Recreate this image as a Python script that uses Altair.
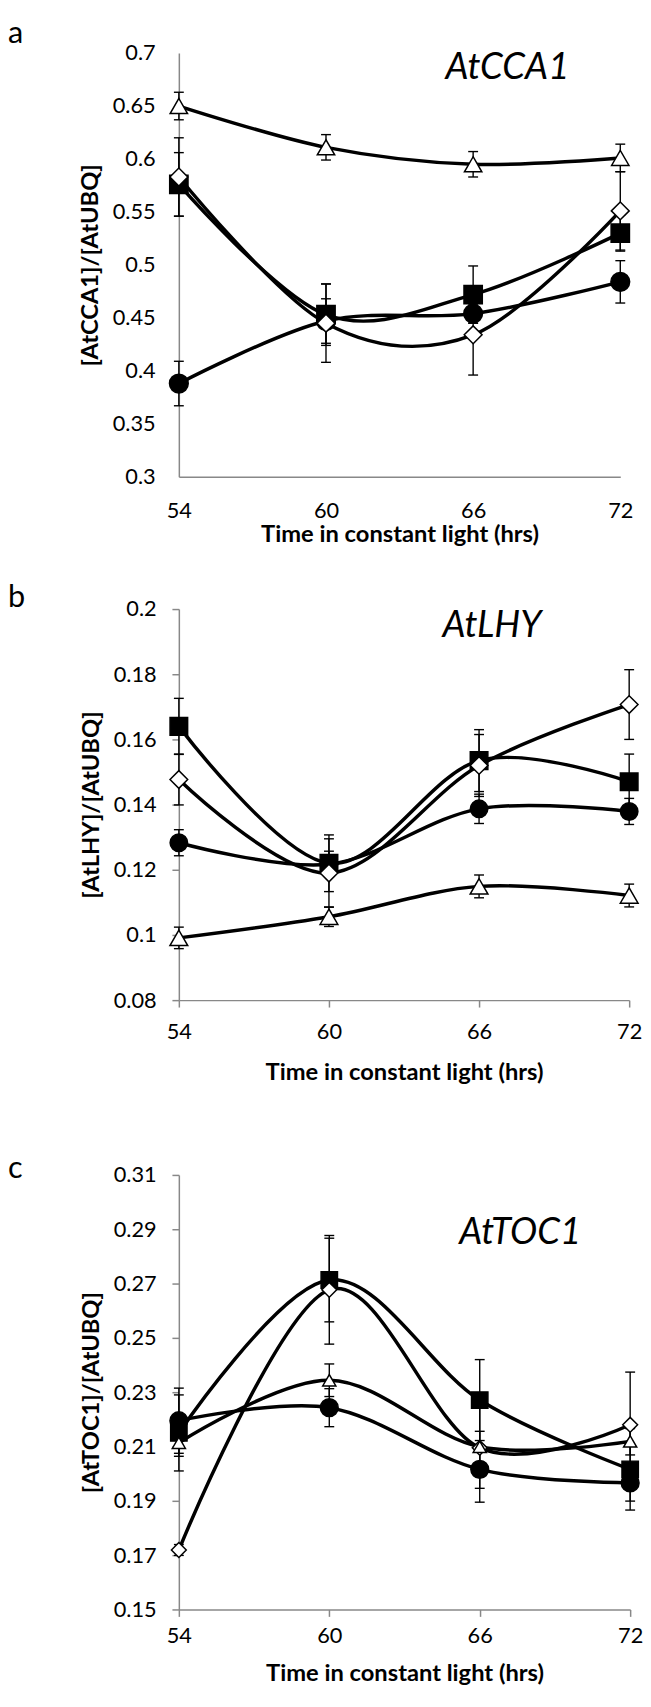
import altair as alt
import pandas as pd

TIMES = [54, 60, 66, 72]
SERIES = ["circle", "square", "diamond", "triangle"]
X_TITLE = "Time in constant light (hrs)"
PANEL_LABELS = ["a", "b", "c"]
GENES = ["AtCCA1", "AtLHY", "AtTOC1"]
Y_TITLES = ["[AtCCA1]/[AtUBQ]", "[AtLHY]/[AtUBQ]", "[AtTOC1]/[AtUBQ]"]

# Panel a: AtCCA1
A_CIRCLE = [0.388, 0.447, 0.454, 0.484]
A_CIRCLE_ERR = [0.021, 0.021, 0.009, 0.020]
A_SQUARE = [0.576, 0.453, 0.472, 0.530]
A_SQUARE_ERR = [0.030, 0.029, 0.027, 0.017]
A_DIAMOND = [0.583, 0.445, 0.434, 0.551]
A_DIAMOND_ERR = [0.037, 0.037, 0.038, 0.037]
A_TRIANGLE = [0.650, 0.611, 0.595, 0.601]
A_TRIANGLE_ERR = [0.013, 0.012, 0.012, 0.013]
A_YTICKS = [0.3, 0.35, 0.4, 0.45, 0.5, 0.55, 0.6, 0.65, 0.7]

# Panel b: AtLHY
B_CIRCLE = [0.1283, 0.1217, 0.1387, 0.1379]
B_CIRCLE_ERR = [0.004, 0.004, 0.0045, 0.004]
B_SQUARE = [0.164, 0.122, 0.1535, 0.147]
B_SQUARE_ERR = [0.0086, 0.0087, 0.0095, 0.0085]
B_DIAMOND = [0.1477, 0.119, 0.152, 0.1707]
B_DIAMOND_ERR = [0.0078, 0.0105, 0.0095, 0.0107]
B_TRIANGLE = [0.0991, 0.1056, 0.1149, 0.1121]
B_TRIANGLE_ERR = [0.0033, 0.003, 0.0035, 0.0035]
B_YTICKS = [0.08, 0.1, 0.12, 0.14, 0.16, 0.18, 0.2]

# Panel c: AtTOC1
C_CIRCLE = [0.2195, 0.2243, 0.2016, 0.1966]
C_CIRCLE_ERR = [0.012, 0.007, 0.007, 0.0067]
C_SQUARE = [0.215, 0.2713, 0.2271, 0.2016]
C_SQUARE_ERR = [0.014, 0.0154, 0.0149, 0.015]
C_DIAMOND = [0.1719, 0.2677, 0.2095, 0.218]
C_DIAMOND_ERR = [0.002, 0.020, 0.020, 0.0194]
C_TRIANGLE = [0.2114, 0.2344, 0.2099, 0.2119]
C_TRIANGLE_ERR = [0.005, 0.006, 0.0057, 0.005]
C_YTICKS = [0.15, 0.17, 0.19, 0.21, 0.23, 0.25, 0.27, 0.29, 0.31]

SHAPES = ["circle", "square", "diamond", "triangle-up"]
FILLS = ["black", "black", "white", "white"]


def make_panel(label, gene, ytitle, series, ydomain, yticks, width, height,
               label_y, gene_x, gene_y, ticks, tick_size, ylabel_pad, xlabel_pad,
               ytitle_pad, xtitle_pad, sizes):
    rows = []
    for name, (vals, errs) in zip(SERIES, series):
        for t, v, e in zip(TIMES, vals, errs):
            rows.append(dict(time=t, value=v, lo=v - e, hi=v + e, series=name))
    df = pd.DataFrame(rows)

    xaxis = alt.Axis(values=TIMES, format="d", title=X_TITLE, ticks=ticks,
                     tickSize=tick_size, labelPadding=xlabel_pad,
                     titlePadding=xtitle_pad, grid=False, labelFlush=False)
    xenc = alt.X("time:Q", scale=alt.Scale(domain=[54, 72], nice=False, zero=False),
                 axis=xaxis)
    yscale = alt.Scale(domain=ydomain, nice=False, zero=False)
    yaxis = alt.Axis(values=yticks, format=".2~f", title=ytitle, ticks=ticks,
                     tickSize=tick_size, labelPadding=ylabel_pad,
                     titlePadding=ytitle_pad, grid=False)

    base = alt.Chart(df)
    bars = base.mark_rule(color="black", strokeWidth=1.4).encode(
        x=xenc, y=alt.Y("lo:Q", scale=yscale, axis=yaxis), y2="hi:Q",
        detail="series:N")
    cap_lo = base.mark_tick(orient="horizontal", size=10, thickness=1.4,
                            color="black", opacity=1).encode(
        x=xenc, y=alt.Y("lo:Q", scale=yscale, axis=yaxis), detail="series:N")
    cap_hi = base.mark_tick(orient="horizontal", size=10, thickness=1.4,
                            color="black", opacity=1).encode(
        x=xenc, y=alt.Y("hi:Q", scale=yscale, axis=yaxis), detail="series:N")
    lines = base.mark_line(interpolate="cardinal", color="black",
                           strokeWidth=3.5).encode(
        x=xenc, y=alt.Y("value:Q", scale=yscale, axis=yaxis), detail="series:N")
    pts = base.mark_point(filled=True, stroke="black", strokeWidth=1.5,
                          opacity=1).encode(
        x=xenc, y=alt.Y("value:Q", scale=yscale, axis=yaxis),
        shape=alt.Shape("series:N", scale=alt.Scale(domain=SERIES, range=SHAPES),
                        legend=None),
        fill=alt.Fill("series:N", scale=alt.Scale(domain=SERIES, range=FILLS),
                      legend=None),
        size=alt.Size("series:N", scale=alt.Scale(domain=SERIES, range=sizes),
                      legend=None))
    lab = alt.Chart(pd.DataFrame({"t": [label]})).mark_text(
        align="left", baseline="alphabetic", font="Lato", fontSize=31,
        color="black").encode(text="t:N", x=alt.value(-173), y=alt.value(label_y))
    gen = alt.Chart(pd.DataFrame({"t": [gene]})).mark_text(
        align="left", baseline="alphabetic", font="Lato", fontSize=37,
        fontStyle="italic", color="black").encode(
        text="t:N", x=alt.value(gene_x), y=alt.value(gene_y))
    return alt.layer(bars, cap_lo, cap_hi, lines, pts, lab, gen).properties(
        width=width, height=height)


pa = make_panel(PANEL_LABELS[0], GENES[0], Y_TITLES[0],
                [(A_CIRCLE, A_CIRCLE_ERR), (A_SQUARE, A_SQUARE_ERR),
                 (A_DIAMOND, A_DIAMOND_ERR), (A_TRIANGLE, A_TRIANGLE_ERR)],
                [0.3, 0.7], A_YTICKS, 447, 429, -10, 270, 26,
                False, 0, 24, 24, 10, 2, [361, 310, 260, 324])
pb = make_panel(PANEL_LABELS[1], GENES[1], Y_TITLES[1],
                [(B_CIRCLE, B_CIRCLE_ERR), (B_SQUARE, B_SQUARE_ERR),
                 (B_DIAMOND, B_DIAMOND_ERR), (B_TRIANGLE, B_TRIANGLE_ERR)],
                [0.08, 0.2], B_YTICKS, 456, 396, -2, 267, 28,
                True, 7, 16, 15, 10, 18, [313, 324, 256, 324])
pc = make_panel(PANEL_LABELS[2], GENES[2], Y_TITLES[2],
                [(C_CIRCLE, C_CIRCLE_ERR), (C_SQUARE, C_SQUARE_ERR),
                 (C_DIAMOND, C_DIAMOND_ERR), (C_TRIANGLE, C_TRIANGLE_ERR)],
                [0.15, 0.31], C_YTICKS, 457, 440, 3, 284, 70,
                True, 7, 16, 9, 10, 16, [324, 177, 270, 324])

top = alt.vconcat(pa, pb, spacing=36).resolve_scale(size="independent")
chart = alt.vconcat(top, pc, spacing=70).resolve_scale(size="independent").properties(
    padding={"top": 0, "left": 0, "right": 0, "bottom": 0},
    background="white",
).configure_axis(
    domainColor="#888888", domainWidth=1.5, tickColor="#888888", tickWidth=1.5,
    labelFont="Lato", labelFontSize=22, labelColor="black",
    titleFont="Lato", titleFontSize=24, titleFontWeight="bold", titleColor="black",
).configure_view(stroke=None)

chart.save("out.html", embed_options={"renderer": "svg", "actions": False})
